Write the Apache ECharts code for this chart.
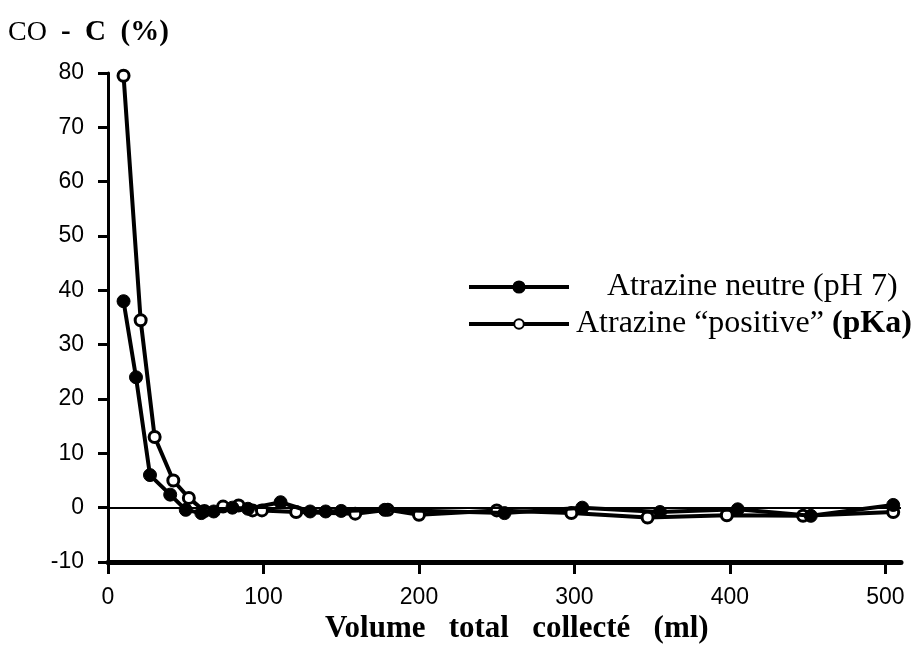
<!DOCTYPE html>
<html>
<head>
<meta charset="utf-8">
<script src="https://cdn.jsdelivr.net/npm/echarts@6/dist/echarts.min.js"></script>
<style>
  html, body { margin: 0; padding: 0; background: #fff; }
  #chart { width: 924px; height: 646px; }
</style>
</head>
<body>
<div id="chart"></div>
<script>
  // Atrazine neutre (pH 7) - filled markers
  let neutreX = [10, 18, 27, 40, 50, 60, 68, 80, 90, 111, 130, 140, 150, 178, 255, 305, 355, 405, 452, 505]
  let neutreY = [38, 24, 6, 2.4, -0.4, -1, -0.7, 0, -0.2, 1, -0.7, -0.7, -0.6, -0.4, -1, 0, -0.8, -0.3, -1.5, 0.5]
  // Atrazine "positive" (pKa) - open markers
  let positiveX = [10, 21, 30, 42, 52, 62, 74, 84, 93, 99, 121, 159, 180, 200, 250, 298, 347, 398, 447, 505]
  let positiveY = [79.5, 34.5, 13, 5, 1.8, -0.6, 0.2, 0.4, -0.5, -0.5, -0.8, -1.1, -0.4, -1.3, -0.5, -1, -1.8, -1.4, -1.5, -0.8]
  let xTicks = [0, 100, 200, 300, 400, 500]
  let yTicks = [-10, 0, 10, 20, 30, 40, 50, 60, 70, 80]

  let nameNeutre = 'Atrazine neutre (pH 7)'
  let namePositive = 'Atrazine “positive” (pKa)'
  let tickFont = '"Liberation Sans Narrow", "Liberation Sans", sans-serif'

  function pairs (xs, ys) {
    return xs.map(function (x, i) { return [x, ys[i]] })
  }

  let myChart = echarts.init(document.getElementById('chart'))
  let option = {
    animation: false,
    backgroundColor: '#fff',
    grid: {
      left: 108,
      right: 23,
      top: 73,
      bottom: 84
    },
    graphic: [{
      type: 'text',
      left: 8,
      top: 18,
      style: {
        text: '{a|CO}  {b|-  C  (%)}',
        fontSize: 28,
        fontFamily: 'Liberation Serif',
        rich: {
          a: { fontFamily: 'Liberation Serif', fontSize: 28, fill: '#000' },
          b: { fontFamily: 'Liberation Serif', fontSize: 29, fontWeight: 'bold', fill: '#000' }
        }
      }
    }, {
      type: 'text',
      left: 325,
      top: 613,
      style: {
        text: 'Volume   total   collecté   (ml)',
        fontFamily: 'Liberation Serif',
        fontSize: 31,
        fontWeight: 'bold',
        fill: '#000'
      }
    }],
    legend: [{
      left: 467,
      top: 271,
      padding: 0,
      orient: 'vertical',
      itemWidth: 100,
      itemHeight: 14,
      data: [nameNeutre],
      lineStyle: { width: 4 },
      textStyle: { fontFamily: 'Liberation Serif', fontSize: 32, color: '#000', padding: [0, 0, 0, 33] }
    }, {
      left: 467,
      top: 308,
      padding: 0,
      orient: 'vertical',
      itemWidth: 100,
      itemHeight: 12,
      data: [namePositive],
      lineStyle: { width: 4 },
      formatter: function () {
        return 'Atrazine “positive” {b|(pKa)}'
      },
      textStyle: {
        fontFamily: 'Liberation Serif',
        fontSize: 32,
        color: '#000',
        padding: [0, 0, 0, 2],
        rich: {
          b: { fontFamily: 'Liberation Serif', fontSize: 32, fontWeight: 'bold', color: '#000' }
        }
      }
    }],
    xAxis: {
      type: 'value',
      min: 0,
      max: 510,
      interval: 100,
      axisLine: { onZero: false, lineStyle: { color: '#000', width: 5 } },
      axisTick: { show: true, length: 12, customValues: xTicks, lineStyle: { color: '#000', width: 3 } },
      axisLabel: {
        margin: 24,
        color: '#000',
        fontFamily: tickFont,
        fontSize: 23,
        customValues: xTicks
      },
      splitLine: { show: false }
    },
    yAxis: {
      type: 'value',
      min: -10,
      max: 80,
      interval: 10,
      axisLine: { show: true, lineStyle: { color: '#000', width: 3 } },
      axisTick: { show: true, length: 10, lineStyle: { color: '#000', width: 3 } },
      axisLabel: {
        margin: 24,
        color: '#000',
        fontFamily: tickFont,
        fontSize: 23,
        formatter: function (v) { return yTicks.indexOf(v) >= 0 ? String(v) : '' }
      },
      splitLine: { show: false }
    },
    series: [{
      name: nameNeutre,
      type: 'line',
      data: pairs(neutreX, neutreY),
      symbol: 'circle',
      symbolSize: 13,
      lineStyle: { color: '#000', width: 4 },
      itemStyle: { color: '#000', borderColor: '#000', borderWidth: 1 },
      markLine: {
        silent: true,
        symbol: 'none',
        label: { show: false },
        lineStyle: { color: '#000', width: 2, type: 'solid' },
        data: [{ yAxis: 0 }]
      },
      z: 3
    }, {
      name: namePositive,
      type: 'line',
      data: pairs(positiveX, positiveY),
      symbol: 'circle',
      symbolSize: 11,
      lineStyle: { color: '#000', width: 4 },
      itemStyle: { color: '#fff', borderColor: '#000', borderWidth: 3 },
      z: 2
    }]
  }
  myChart.setOption(option)
</script>
</body>
</html>
